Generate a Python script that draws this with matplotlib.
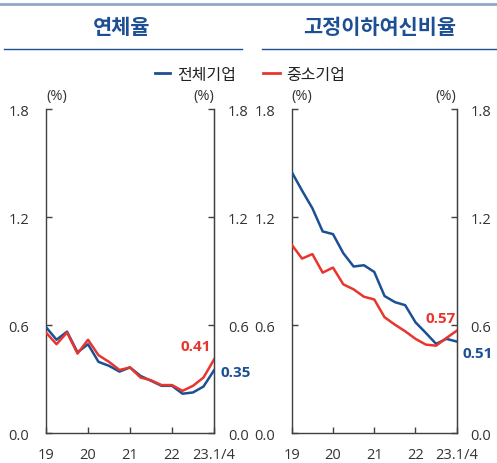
import matplotlib.pyplot as plt
from matplotlib.lines import Line2D

plt.rcParams['font.family'] = ['Open Sans', 'Noto Sans CJK KR', 'DejaVu Sans']

# quarterly, 2019 Q1 .. 2023 Q1
quarters = list(range(17))
tick_pos = [0, 4, 8, 12, 16]
tick_labels = ['19', '20', '21', '22', '23.1/4']
y_ticks = [0.0, 0.6, 1.2, 1.8]

# 연체율
overdue_all = [0.59, 0.52, 0.565, 0.45, 0.495, 0.397, 0.375, 0.343, 0.366,
               0.319, 0.292, 0.264, 0.264, 0.22, 0.227, 0.26, 0.35]
overdue_sme = [0.56, 0.495, 0.56, 0.443, 0.52, 0.434, 0.397, 0.352, 0.366,
               0.31, 0.295, 0.268, 0.268, 0.236, 0.264, 0.31, 0.41]
# 고정이하여신비율
npl_all = [1.452, 1.349, 1.251, 1.122, 1.107, 1.001, 0.927, 0.934, 0.897,
           0.763, 0.729, 0.712, 0.617, 0.558, 0.497, 0.525, 0.51]
npl_sme = [1.048, 0.971, 0.996, 0.893, 0.921, 0.828, 0.80, 0.759, 0.744,
           0.645, 0.604, 0.567, 0.525, 0.493, 0.487, 0.53, 0.57]

BLUE = '#1c4f93'
RED = '#e8352e'
AXC = '#404040'

fig = plt.figure(figsize=(4.97, 4.64), dpi=100)

# header rules
fig.add_artist(Line2D([0, 1], [0.989, 0.989], color='#8fa8c8', lw=2))
fig.add_artist(Line2D([0.008, 0.487], [0.892, 0.892], color=BLUE, lw=1))
fig.add_artist(Line2D([0.527, 1.0], [0.892, 0.892], color=BLUE, lw=1))

fig.text(0.245, 0.94, '연체율', ha='center', va='center', fontsize=15,
         fontweight='bold', color=BLUE, family='Noto Sans CJK KR')
fig.text(0.763, 0.94, '고정이하여신비율', ha='center', va='center', fontsize=15,
         fontweight='bold', color=BLUE, family='Noto Sans CJK KR')

# legend
fig.add_artist(Line2D([0.312, 0.342], [0.84, 0.84], color=BLUE, lw=2))
fig.text(0.356, 0.838, '전체기업', va='center', fontsize=11.5, color='#222222',
         family='Noto Sans CJK KR')
fig.add_artist(Line2D([0.529, 0.563], [0.84, 0.84], color=RED, lw=2))
fig.text(0.575, 0.838, '중소기업', va='center', fontsize=11.5, color='#222222',
         family='Noto Sans CJK KR')

panels = [
    ([0.0926, 0.064, 0.338, 0.698], overdue_all, overdue_sme),
    ([0.587, 0.064, 0.332, 0.698], npl_all, npl_sme),
]

axes = []
for rect, s_all, s_sme in panels:
    ax = fig.add_axes(rect)
    ax.plot(quarters, s_all, color=BLUE, lw=1.8, zorder=3)
    ax.plot(quarters, s_sme, color=RED, lw=1.8, zorder=3)
    ax.set_xlim(0, 16)
    ax.set_ylim(0, 1.8)
    ax.set_xticks(tick_pos)
    ax.set_xticklabels(tick_labels)
    ax.set_yticks(y_ticks)
    ax.set_yticklabels([f'{v:.1f}' for v in y_ticks])
    for s in ['left', 'right', 'bottom']:
        ax.spines[s].set_color(AXC)
        ax.spines[s].set_linewidth(1)
    ax.spines['top'].set_visible(False)
    ax.tick_params(axis='both', direction='in', length=4, width=1, color=AXC,
                   labelsize=10.5, labelcolor='#333333')
    ax.tick_params(axis='y', left=True, right=False, pad=12)
    ax.tick_params(axis='x', pad=10)
    ax.patch.set_visible(False)

    ax2 = ax.twinx()
    ax2.set_ylim(0, 1.8)
    ax2.set_yticks(y_ticks)
    ax2.set_yticklabels([f'{v:.1f}' for v in y_ticks])
    for s in ['left', 'top', 'bottom']:
        ax2.spines[s].set_visible(False)
    ax2.spines['right'].set_color(AXC)
    ax2.tick_params(axis='y', direction='in', length=4, width=1, color=AXC,
                    labelsize=10.5, labelcolor='#333333', pad=10)

    ax.text(0.0, 1.02, '(%)', transform=ax.transAxes, ha='left', va='bottom',
            fontsize=10.5, color='#333333')
    ax.text(1.0, 1.02, '(%)', transform=ax.transAxes, ha='right', va='bottom',
            fontsize=10.5, color='#333333')
    axes.append(ax)

ax_l, ax_r = axes
ax_l.annotate(f'{overdue_sme[-1]:.2f}', (16, overdue_sme[-1]), xytext=(-2, 10),
              textcoords='offset points', ha='right', va='center',
              fontsize=11, fontweight='bold', color=RED)
ax_l.annotate(f'{overdue_all[-1]:.2f}', (16, overdue_all[-1]), xytext=(5, -1),
              textcoords='offset points', ha='left', va='center',
              fontsize=11, fontweight='bold', color=BLUE)
ax_r.annotate(f'{npl_sme[-1]:.2f}', (16, npl_sme[-1]), xytext=(-1, 9),
              textcoords='offset points', ha='right', va='center',
              fontsize=11, fontweight='bold', color=RED)
ax_r.annotate(f'{npl_all[-1]:.2f}', (16, npl_all[-1]), xytext=(4, -8),
              textcoords='offset points', ha='left', va='center',
              fontsize=11, fontweight='bold', color=BLUE)

fig.savefig('out.png', dpi=100)
